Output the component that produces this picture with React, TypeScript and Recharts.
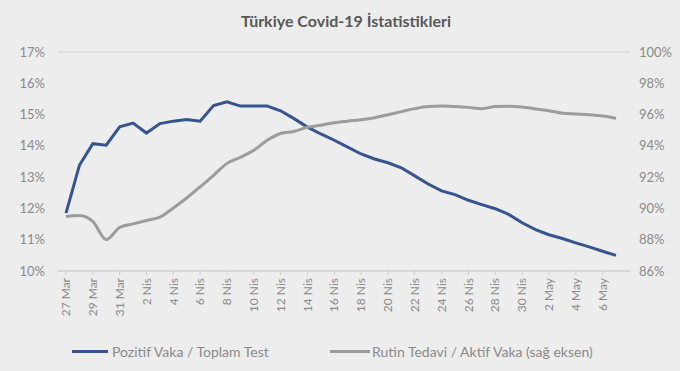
import React from 'react';
import { LineChart, Line, XAxis, YAxis, CartesianGrid } from 'recharts';

const dates = [
  '27 Mar', '28 Mar', '29 Mar', '30 Mar', '31 Mar',
  '1 Nis', '2 Nis', '3 Nis', '4 Nis', '5 Nis', '6 Nis', '7 Nis', '8 Nis', '9 Nis', '10 Nis',
  '11 Nis', '12 Nis', '13 Nis', '14 Nis', '15 Nis', '16 Nis', '17 Nis', '18 Nis', '19 Nis', '20 Nis',
  '21 Nis', '22 Nis', '23 Nis', '24 Nis', '25 Nis', '26 Nis', '27 Nis', '28 Nis', '29 Nis', '30 Nis',
  '1 May', '2 May', '3 May', '4 May', '5 May', '6 May', '7 May',
];

// Pozitif Vaka / Toplam Test (%)
const pozitifOrani = [
  11.85, 13.38, 14.07, 14.02, 14.61, 14.73, 14.41, 14.71, 14.79, 14.84,
  14.79, 15.29, 15.41, 15.27, 15.27, 15.27, 15.12, 14.87, 14.6, 14.38,
  14.18, 13.96, 13.74, 13.58, 13.46, 13.3, 13.04, 12.78, 12.56, 12.44,
  12.26, 12.12, 11.99, 11.81, 11.54, 11.32, 11.16, 11.04, 10.9, 10.77,
  10.63, 10.5,
];

// Rutin Tedavi / Aktif Vaka (%), sağ eksen
const rutinTedaviOrani = [
  89.49, 89.55, 89.17, 88.01, 88.78, 89.01, 89.23, 89.44, 90.03, 90.67,
  91.38, 92.12, 92.88, 93.27, 93.72, 94.36, 94.79, 94.92, 95.19, 95.32,
  95.48, 95.58, 95.67, 95.8, 95.99, 96.19, 96.38, 96.51, 96.54, 96.51,
  96.46, 96.38, 96.51, 96.53, 96.49, 96.36, 96.25, 96.09, 96.04, 95.99,
  95.91, 95.77,
];

const leftTicks = [10, 11, 12, 13, 14, 15, 16, 17];
const rightTicks = [86, 88, 90, 92, 94, 96, 98, 100];

const data = dates.map((d, i) => ({
  date: d,
  pozitif: pozitifOrani[i],
  rutin: rutinTedaviOrani[i],
}));

const FONT = 'Lato, "Liberation Sans", sans-serif';
const BLUE = '#36548f';
const GRAY = '#9c9c9c';

const DateTick = ({ x, y, payload }: any) => (
  <text
    x={x}
    y={y}
    transform={`rotate(-90 ${x} ${y})`}
    textAnchor="end"
    dy="0.35em"
    fill="#8a8a8a"
    fontSize={12}
    fontFamily={FONT}
  >
    {payload.value}
  </text>
);

const pct = (v: number) => `${v}%`;

export default function App() {
  return (
    <div style={{ position: 'absolute', left: 0, top: 0, width: 680, height: 371, background: '#ededed', fontFamily: FONT }}>
      <div style={{ position: 'absolute', top: 11, left: 0, width: 692, textAlign: 'center', fontWeight: 700, fontSize: 16, color: '#585858' }}>
        Türkiye Covid-19 İstatistikleri
      </div>
      <div style={{ position: 'absolute', left: 0, top: 0 }}>
        <LineChart width={680} height={330} data={data} margin={{ top: 52, right: 0, left: 0, bottom: 0 }}>
          <CartesianGrid vertical={false} stroke="#d2d2d2" />
          <XAxis
            dataKey="date"
            interval={1}
            height={59}
            padding={{ left: 8, right: 14 }}
            axisLine={{ stroke: '#cfcfcf' }}
            tickLine={{ stroke: '#cfcfcf' }}
            tickSize={4}
            tickMargin={3}
            tick={<DateTick />}
          />
          <YAxis
            yAxisId="left"
            domain={[10, 17]}
            ticks={leftTicks}
            tickFormatter={pct}
            width={58}
            axisLine={false}
            tickLine={false}
            tickSize={0}
            tickMargin={13}
            tick={{ fill: '#8a8a8a', fontSize: 13, fontFamily: FONT }}
          />
          <YAxis
            yAxisId="right"
            orientation="right"
            domain={[86, 100]}
            ticks={rightTicks}
            tickFormatter={pct}
            width={50}
            axisLine={false}
            tickLine={false}
            tickSize={0}
            tickMargin={9}
            tick={{ fill: '#8a8a8a', fontSize: 13, fontFamily: FONT, textAnchor: 'start' }}
          />
          <Line yAxisId="left" type="linear" dataKey="pozitif" stroke={BLUE} strokeWidth={3} dot={false} isAnimationActive={false} />
          <Line yAxisId="right" type="monotone" dataKey="rutin" stroke={GRAY} strokeWidth={3} dot={false} isAnimationActive={false} />
        </LineChart>
      </div>
      <div style={{ position: 'absolute', left: 72, top: 350, width: 36, height: 3, background: BLUE }} />
      <div style={{ position: 'absolute', left: 112, top: 343, fontSize: 14, color: '#8a8a8a' }}>Pozitif Vaka / Toplam Test</div>
      <div style={{ position: 'absolute', left: 330, top: 350, width: 40, height: 3, background: GRAY }} />
      <div style={{ position: 'absolute', left: 372, top: 343, fontSize: 14, color: '#8a8a8a' }}>Rutin Tedavi / Aktif Vaka (sağ eksen)</div>
    </div>
  );
}
